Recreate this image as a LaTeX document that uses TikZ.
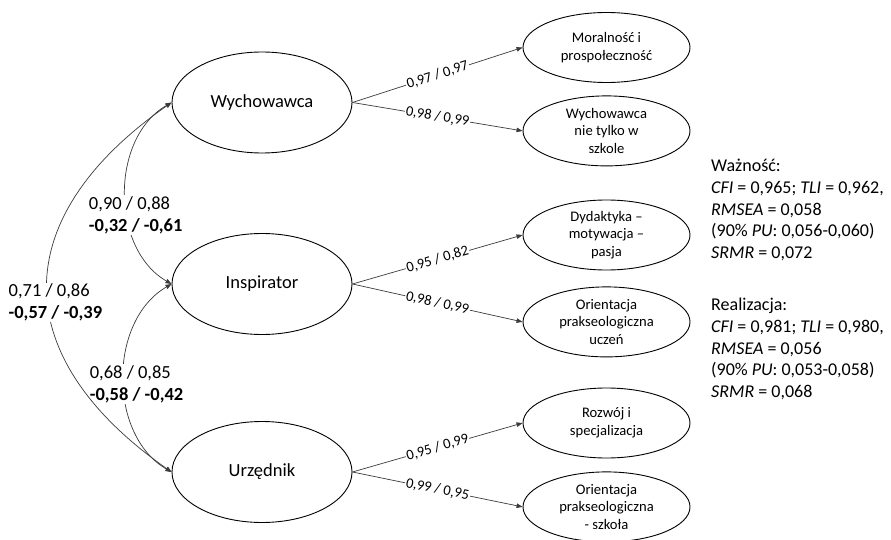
\documentclass[tikz,border=0pt]{standalone}
\usepackage{fontspec}
\setmainfont{Carlito}
\usetikzlibrary{shapes.geometric,arrows.meta,positioning}
\definecolor{liniaszara}{HTML}{3A3A3A}
\newcommand{\wsk}[1]{\textit{#1}}

\begin{document}
\begin{tikzpicture}[
    x=1pt, y=1pt,
    lat/.style={ellipse, draw=black, line width=0.9pt, minimum width=180pt, minimum height=101pt,
      inner sep=0pt, font=\fontsize{18.5}{22}\selectfont},
    ind/.style={ellipse, draw=black, line width=0.9pt, minimum width=167pt, minimum height=70pt,
      inner sep=0pt, align=center, font=\fontsize{14.6}{17.8}\selectfont},
    load/.style={-{Triangle[length=6pt,width=4.5pt]}, line width=0.7pt, liniaszara},
    cov/.style={{Triangle[length=6pt,width=4.5pt]}-{Triangle[length=6pt,width=4.5pt]},
      line width=0.7pt, liniaszara},
    wlbl/.style={sloped, fill=white, inner sep=1pt, text=black, font=\fontsize{14.6}{17}\selectfont},
    corr/.style={fill=white, align=left, inner sep=1pt, text=black, font=\fontsize{18.5}{22}\selectfont},
    dopas/.style={anchor=north west, align=left, inner sep=0pt, font=\fontsize{18}{21.7}\selectfont}
  ]
    \useasboundingbox (0,0) rectangle (891,-540);
    % czynniki
    \node[lat] (wych) at (262,-102.5) {Wychowawca};
    \node[lat] (insp) at (262,-284) {Inspirator};
    \node[lat] (urz) at (262,-472) {Urzędnik};
    % wskazniki
    \node[ind] (moral) at (606.5,-47.5) {Moralność i\\prospołeczność};
    \node[ind, below=12.5pt of moral] (wnts) {Wychowawca\\nie tylko w\\szkole};
    \node[ind] (dyd) at (606.5,-235) {Dydaktyka –\\motywacja –\\pasja};
    \node[ind, below=16pt of dyd] (oru) {Orientacja\\prakseologiczna\\uczeń};
    \node[ind] (rozw) at (606.5,-423) {Rozwój i\\specjalizacja};
    \node[ind, below=13pt of rozw] (ors) {Orientacja\\prakseologiczna\\- szkoła};
    % ladunki
    \draw[load] (wych.east) -- node[wlbl] {0,97 / 0,97} (moral.west);
    \draw[load] (wych.east) -- node[wlbl] {0,98 / 0,99} (wnts.west);
    \draw[load] (insp.east) -- node[wlbl] {0,95 / 0,82} (dyd.west);
    \draw[load] (insp.east) -- node[wlbl] {0,98 / 0,99} (oru.west);
    \draw[load] (urz.east) -- node[wlbl] {0,95 / 0,99} (rozw.west);
    \draw[load] (urz.east) -- node[wlbl] {0,99 / 0,95} (ors.west);
    % korelacje
    \draw[cov] (wych.west) to[out=210, in=150]
      node[corr, pos=0.6, xshift=8.3pt] {0,90 / 0,88\\\textbf{-0,32 / -0,61}} (insp.west);
    \draw[cov] (insp.west) to[out=210, in=150]
      node[corr, pos=0.526, xshift=12.5pt] {0,68 / 0,85\\\textbf{-0,58 / -0,42}} (urz.west);
    \draw[cov] (wych.west) to[out=215, in=145, looseness=1.4]
      node[corr, pos=0.54, xshift=7pt] {0,71 / 0,86\\\textbf{-0,57 / -0,39}} (urz.west);
    % dopasowanie
    \node[dopas] (wazn) at (711,-159) {Ważność:\\\wsk{CFI} = 0,965; \wsk{TLI} = 0,962,\\\wsk{RMSEA} = 0,058\\(90\% \wsk{PU}: 0,056-0,060)\\\wsk{SRMR} = 0,072};
    \node[dopas] (real) at (711,-298) {Realizacja:\\\wsk{CFI} = 0,981; \wsk{TLI} = 0,980,\\\wsk{RMSEA} = 0,056\\(90\% \wsk{PU}: 0,053-0,058)\\\wsk{SRMR} = 0,068};
\end{tikzpicture}
\end{document}
